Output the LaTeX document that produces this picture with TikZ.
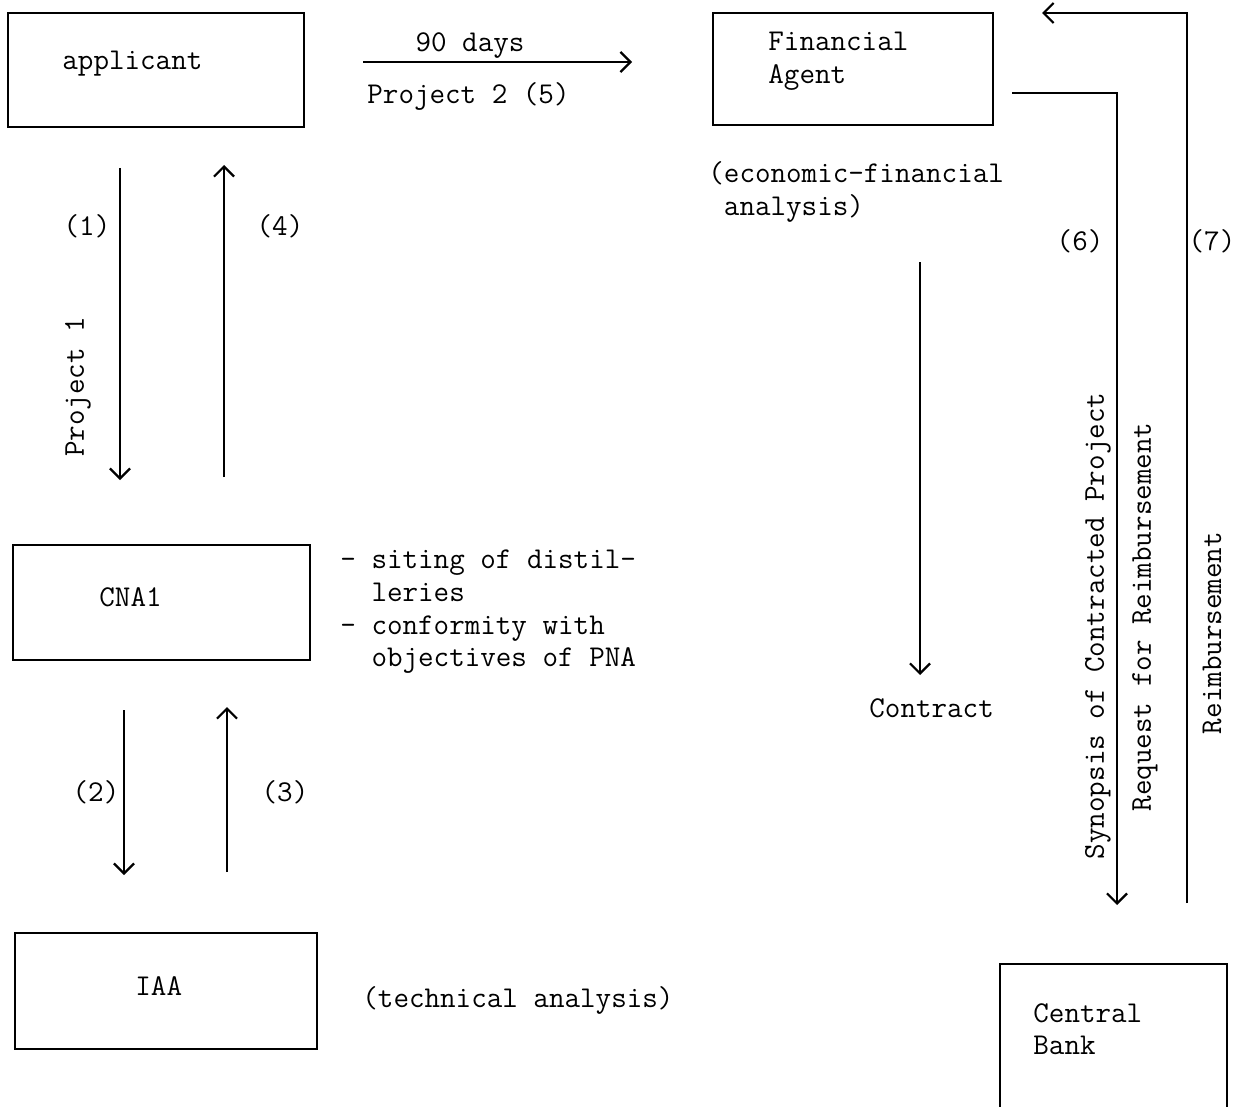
\documentclass[tikz,border=0pt]{standalone}
\usepackage{fontspec}
\usetikzlibrary{calc,positioning,arrows.meta}
\tikzset{
>={Straight Barb[length=5pt,width=10pt,line width=1.1pt]},
  box/.style={
    draw=black,
    line width=1.1pt,
    inner sep=0pt},
  flow/.style={draw, line width=1.1pt, ->},
  txt/.style={
    font=\ttfamily\fontsize{15.1}{16.3}\selectfont,
    inner sep=0pt,
    align=left},
  vtxt/.style={txt, rotate=90},
}

\begin{document}
\begin{tikzpicture}[x=0.5pt,y=-0.5pt]
  \useasboundingbox (0,0) rectangle (1241,1107);
  % the boxes
  \node[box, minimum width=148pt, minimum height=57pt] (applicant) at (156,70) {};
  \node[box, minimum width=140pt, minimum height=56pt] (agent) at (853,69) {};
  \node[box, minimum width=148.5pt, minimum height=57.5pt] (cnai) at (161.5,602.5) {};
  \node[box, minimum width=151pt, minimum height=58pt] (iaa) at (166,991) {};
  \node[box, minimum width=113.5pt, minimum height=76.5pt] (bank) at (1113.5,1040.5) {};
  % texts of the boxes
  \node[txt, anchor=west] (applicanttxt) at (62,64) {applicant};
  \node[txt, anchor=west] (agenttxt) at (768,61) {Financial\\Agent};
  \node[txt, anchor=west] (cnaitxt) at (99,597) {CNA1};
  \node[txt, anchor=west] (iaatxt) at (135,986) {IAA};
  \node[txt, anchor=west] (banktxt) at (1033,1029) {Central\\Bank};
  % free ends of the connectors
  \coordinate (p1a) at (120,168);  \coordinate (p1b) at (120,480);
  \coordinate (p4a) at (224,477);  \coordinate (p4b) at (224,165);
  \coordinate (p2a) at (124,710);  \coordinate (p2b) at (124,875);
  \coordinate (p3a) at (227,872);  \coordinate (p3b) at (227,707);
  \coordinate (p5a) at (363,62);   \coordinate (p5b) at (632,62);
  \coordinate (ca) at (920,262);   \coordinate (cb) at (920,675);
  \coordinate (p6a) at (1012,93);  \coordinate (p6b) at (1117,93);
  \coordinate (p6c) at (1117,905);
  \coordinate (p7a) at (1187,903); \coordinate (p7b) at (1187,13);
  \coordinate (p7c) at (1042,13);
  % the connectors
  \draw[flow] (p1a) -- (p1b);
  \draw[flow] (p4a) -- (p4b);
  \draw[flow] (p2a) -- (p2b);
  \draw[flow] (p3a) -- (p3b);
  \draw[flow] (p5a) -- (p5b);
  \draw[flow] (ca) -- (cb);
  \draw[flow] (p6a) -- (p6b) -- (p6c);
  \draw[flow] (p7a) -- (p7b) -- (p7c);
  %% labels, left column
  \node[txt] (l1) at (87,226) {(1)};
  \node[txt] (l4) at (280,226) {(4)};
  \node[vtxt] (proj1) at (78,387) {Project 1};
  \node[txt] (l2) at (96,792) {(2)};
  \node[txt] (l3) at (285,792) {(3)};
  \node[txt, anchor=west] (goals) at (340,612) {- siting of distil-\\\ \ leries\\- conformity with\\\ \ objectives of PNA};
  \node[txt, anchor=west] (tech) at (362,1000) {(technical analysis)};
  %% labels, top and right
  \node[txt] (days) at (470,46) {90 days};
  \node[txt, anchor=west] (proj2) at (367,96) {Project 2 (5)};
  \node[txt, anchor=west] (econ) at (708,192) {(economic-financial\\\ analysis)};
  \node[txt, anchor=west] (contract) at (869,708) {Contract};
  \node[txt] (l6) at (1080,241) {(6)};
  \node[txt] (l7) at (1212,241) {(7)};
  \node[vtxt] (synopsis) at (1098,626) {Synopsis of Contracted Project};
  \node[vtxt] (request) at (1145,617) {Request for Reimbursement};
  \node[vtxt] (reimb) at (1212,633) {Reimbursement};
\end{tikzpicture}
\end{document}
